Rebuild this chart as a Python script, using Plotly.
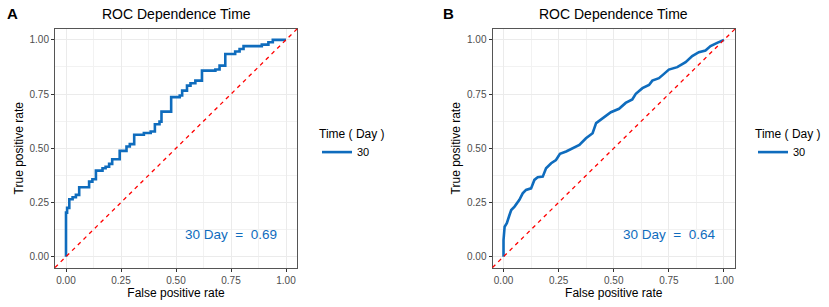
import plotly.graph_objects as go

# ---------------- data ----------------
A_FPR = [0.0, 0.0, 0.005, 0.015, 0.03, 0.045, 0.06, 0.105, 0.12, 0.136, 0.166, 0.18,
         0.196, 0.21, 0.244, 0.275, 0.29, 0.31, 0.354, 0.385, 0.404, 0.425, 0.434,
         0.478, 0.517, 0.528, 0.55, 0.566, 0.588, 0.618, 0.679, 0.698, 0.724, 0.769,
         0.789, 0.807, 0.89, 0.92, 0.94, 1.0]
A_TPR = [0.0, 0.203, 0.225, 0.265, 0.274, 0.285, 0.32, 0.346, 0.357, 0.397, 0.408, 0.415,
         0.428, 0.449, 0.488, 0.508, 0.519, 0.562, 0.57, 0.577, 0.611, 0.623, 0.669,
         0.736, 0.743, 0.766, 0.789, 0.80, 0.812, 0.858, 0.863, 0.881, 0.935, 0.946,
         0.958, 0.971, 0.978, 0.989, 1.0, 1.0]

B_FPR = [0.0, 0.0, 0.005, 0.015, 0.027, 0.035, 0.05, 0.072, 0.087, 0.102, 0.125, 0.14,
         0.155, 0.178, 0.193, 0.216, 0.238, 0.256, 0.284, 0.314, 0.344, 0.374, 0.404,
         0.42, 0.45, 0.487, 0.524, 0.554, 0.584, 0.6, 0.63, 0.66, 0.675, 0.705, 0.728,
         0.75, 0.788, 0.826, 0.856, 0.886, 0.916, 0.939, 0.969, 1.0]
B_TPR = [0.0, 0.077, 0.138, 0.154, 0.192, 0.215, 0.231, 0.262, 0.292, 0.308, 0.315, 0.354,
         0.366, 0.369, 0.408, 0.431, 0.446, 0.474, 0.485, 0.50, 0.515, 0.546, 0.569,
         0.616, 0.639, 0.666, 0.682, 0.709, 0.725, 0.751, 0.777, 0.792, 0.812, 0.823,
         0.843, 0.863, 0.874, 0.897, 0.925, 0.943, 0.951, 0.971, 0.986, 1.0]

AUC_A = 0.69
AUC_B = 0.64
TIME_LABEL = "30"
PANEL_LABELS = ["A", "B"]
TICK_VALUES = [0, 0.25, 0.5, 0.75, 1.0]
TICK_LABELS = ["0.00", "0.25", "0.50", "0.75", "1.00"]

# ---------------- style ----------------
W, H = 829, 307
BLUE = "#0F6CBD"
FONT = "Liberation Sans, Arial, sans-serif"

def fx(p):
    return p / W

def fy(p):
    return 1 - p / H

fig = go.Figure()

fig.add_trace(go.Scatter(x=A_FPR, y=A_TPR, mode="lines", line=dict(color=BLUE, width=2.6, shape="hv"),
                         name=TIME_LABEL, legend="legend", xaxis="x", yaxis="y"))
fig.add_trace(go.Scatter(x=B_FPR, y=B_TPR, mode="lines", line=dict(color=BLUE, width=2.6),
                         name=TIME_LABEL, legend="legend2", xaxis="x2", yaxis="y2"))

ydom = [fy(267.5), fy(29)]
xdomA = [fx(55), fx(297)]
xdomB = [fx(492.5), fx(735)]

def xaxis(domain, anchor):
    return dict(domain=domain, anchor=anchor, range=[-0.05, 1.05],
                tickvals=TICK_VALUES, ticktext=TICK_LABELS,
                tickfont=dict(size=10, color="#4D4D4D", family=FONT),
                ticks="outside", ticklen=3, tickcolor="#333333",
                showgrid=True, gridcolor="#EBEBEB", gridwidth=1.4,
                minor=dict(dtick=0.125, tick0=0, showgrid=True, gridcolor="#F2F2F2", gridwidth=0.8),
                zeroline=False, showline=True, mirror=True, linecolor="#555555", linewidth=1,
                title=dict(text="False positive rate", font=dict(size=12, color="black", family=FONT), standoff=4))

def yaxis(anchor):
    return dict(domain=ydom, anchor=anchor, range=[-0.05, 1.05],
                tickvals=TICK_VALUES, ticktext=TICK_LABELS,
                tickfont=dict(size=10, color="#4D4D4D", family=FONT),
                ticks="outside", ticklen=3, tickcolor="#333333",
                showgrid=True, gridcolor="#EBEBEB", gridwidth=1.4,
                minor=dict(dtick=0.125, tick0=0, showgrid=True, gridcolor="#F2F2F2", gridwidth=0.8),
                zeroline=False, showline=True, mirror=True, linecolor="#555555", linewidth=1,
                title=dict(text="True positive rate", font=dict(size=12, color="black", family=FONT), standoff=3))

annotations = []
for xd, label, xr, yr, auc in [(xdomA, PANEL_LABELS[0], "x", "y", AUC_A),
                                (xdomB, PANEL_LABELS[1], "x2", "y2", AUC_B)]:
    annotations.append(dict(text="ROC Dependence Time", x=(xd[0] + xd[1]) / 2, y=fy(14),
                            xref="paper", yref="paper", showarrow=False, xanchor="center", yanchor="middle",
                            font=dict(size=14, color="black", family=FONT)))
    annotations.append(dict(text="30 Day\u00a0\u00a0=\u00a0\u00a0" + f"{auc:.2f}", x=0.75, y=0.1, xref=xr, yref=yr,
                            showarrow=False, xanchor="center", yanchor="middle",
                            font=dict(size=13.5, color=BLUE, family=FONT)))

annotations.append(dict(text="<b>A</b>", x=fx(12), y=fy(13), xref="paper", yref="paper", showarrow=False,
                        xanchor="center", yanchor="middle", font=dict(size=15, color="black", family=FONT)))
annotations.append(dict(text="<b>B</b>", x=fx(449), y=fy(13), xref="paper", yref="paper", showarrow=False,
                        xanchor="center", yanchor="middle", font=dict(size=15, color="black", family=FONT)))

shapes = []
for xr, yr in [("x domain", "y domain"), ("x2 domain", "y2 domain")]:
    shapes.append(dict(type="line", xref=xr, yref=yr, x0=0, y0=0, x1=1, y1=1,
                       line=dict(color="#FF0000", width=1.3, dash="4px,4px")))

legend_common = dict(xanchor="left", yanchor="top", bgcolor="rgba(0,0,0,0)",
                     font=dict(size=11, color="black", family=FONT),
                     title=dict(text="Time ( Day )", font=dict(size=12, color="black", family=FONT)),
                     itemwidth=30, tracegroupgap=0)

fig.update_layout(
    width=W, height=H,
    margin=dict(l=0, r=0, t=0, b=0),
    paper_bgcolor="white", plot_bgcolor="white",
    font=dict(family=FONT),
    xaxis=xaxis(xdomA, "y"), yaxis=yaxis("x"),
    xaxis2=xaxis(xdomB, "y2"), yaxis2=yaxis("x2"),
    annotations=annotations, shapes=shapes,
    showlegend=True,
    legend=dict(x=fx(317), y=fy(122), **legend_common),
    legend2=dict(x=fx(753), y=fy(122), **legend_common),
)

fig.write_html("out.html", config={"displayModeBar": False},
               post_script="document.body.style.margin='0';")
